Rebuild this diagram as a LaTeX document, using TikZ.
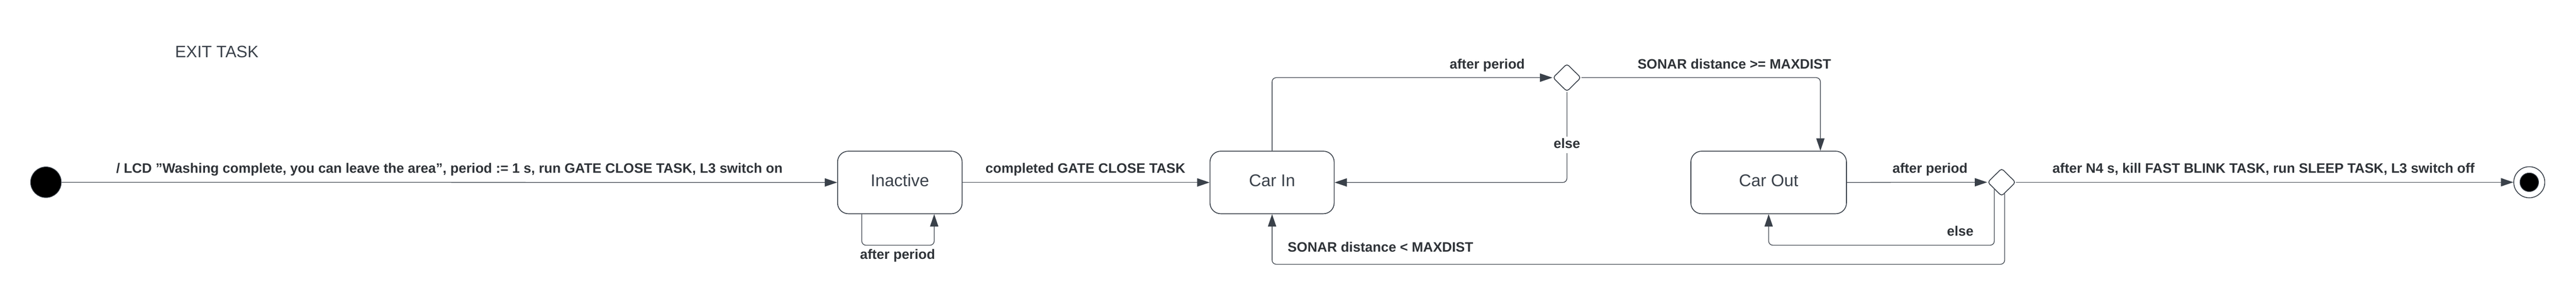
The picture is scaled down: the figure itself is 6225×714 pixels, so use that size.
\documentclass[tikz,border=0pt]{standalone}
\usepackage{fontspec}
\setmainfont{Liberation Sans}
\usetikzlibrary{arrows.meta,shapes.geometric,calc}
\definecolor{lc}{HTML}{3A414A}
\definecolor{tc}{HTML}{2F3338}
\begin{document}
\begin{tikzpicture}[x=1pt,y=-1pt,
  statebox/.style={draw=lc,line width=2pt,rounded corners=26pt,minimum height=151pt,inner sep=0pt,text depth=10pt,font=\fontsize{41}{48}\selectfont,text=lc},
  choice/.style={diamond,draw=lc,line width=2pt,fill=white,minimum width=68pt,minimum height=67pt,inner sep=0pt,rounded corners=6pt},
  conn/.style={draw=lc,line width=1.6pt,rounded corners=10pt,-{Triangle[length=30pt,width=20pt]}},
  lab/.style={anchor=base,font=\fontsize{33}{40}\selectfont\bfseries,text=tc,inner sep=0pt},
]
\useasboundingbox (0,0) rectangle (6225,714);
\fill[white] (0,0) rectangle (6225,714);

\node[anchor=base west,inner sep=0pt,font=\fontsize{40}{48}\selectfont,text=lc] (title) at (423,139) {EXIT TASK};

\node[circle,fill=black,draw=lc,line width=1.5pt,minimum size=74pt,inner sep=0pt] (init) at (111,440) {};
\node[statebox,minimum width=301pt] (inactive) at (2174.5,440.5) {Inactive};
\node[statebox,minimum width=300pt] (carin) at (3074,440.5) {Car In};
\node[statebox,minimum width=376pt] (carout) at (4274,440.5) {Car Out};
\node[choice] (d1) at (3786.5,187.5) {};
\node[choice] (d2) at (4837,440) {};
\node[circle,draw=lc,line width=2pt,fill=white,minimum size=75pt,inner sep=0pt] (final) at (6112,440) {};
\node[circle,fill=black,draw=lc,line width=1.5pt,minimum size=45pt,inner sep=0pt] (finalin) at (6112,440) {};

\draw[conn] (init) -- (inactive);
\draw[conn] (inactive) -- (carin);
\draw[conn] ($(inactive.south)+(-92,0)$) -- ++(0,75) -| ($(inactive.south)+(83,0)$);
\draw[conn] (carin.north) |- (d1.west);
\draw[conn] (d1.east) -| ($(carout.north)+(125,0)$);
\draw[conn] (d1.south) |- (carin.east);
\draw[conn] (carout) -- (d2);
\draw[conn] (d2) -- (final);
\draw[conn] (d2.224) |- ($(carout.south)+(0,75)$) -- (carout.south);
\draw[conn] (d2.-75) |- ($(carin.south)+(0,121)$) -- (carin.south);

\node[lab] (l1) at (1086,418) {/ LCD "Washing complete, you can leave the area", period := 1 s, run GATE CLOSE TASK, L3 switch on};
\node[lab] (l2) at (2623,418) {completed GATE CLOSE TASK};
\node[lab] (l3) at (2169,625) {after period};
\node[lab] (l4) at (3594,166) {after period};
\node[lab] (l5) at (4191,166) {SONAR distance >= MAXDIST};
\node[lab,fill=white,inner xsep=4pt,inner ysep=4pt,text depth=8pt] (l6) at (3786.5,358) {else};
\node[lab] (l7) at (3336,608) {SONAR distance < MAXDIST};
\node[lab] (l8) at (4664,418) {after period};
\node[lab] (l9) at (5470,418) {after N4 s, kill FAST BLINK TASK, run SLEEP TASK, L3 switch off};
\node[lab] (l10) at (4737,570) {else};
\end{tikzpicture}
\end{document}
